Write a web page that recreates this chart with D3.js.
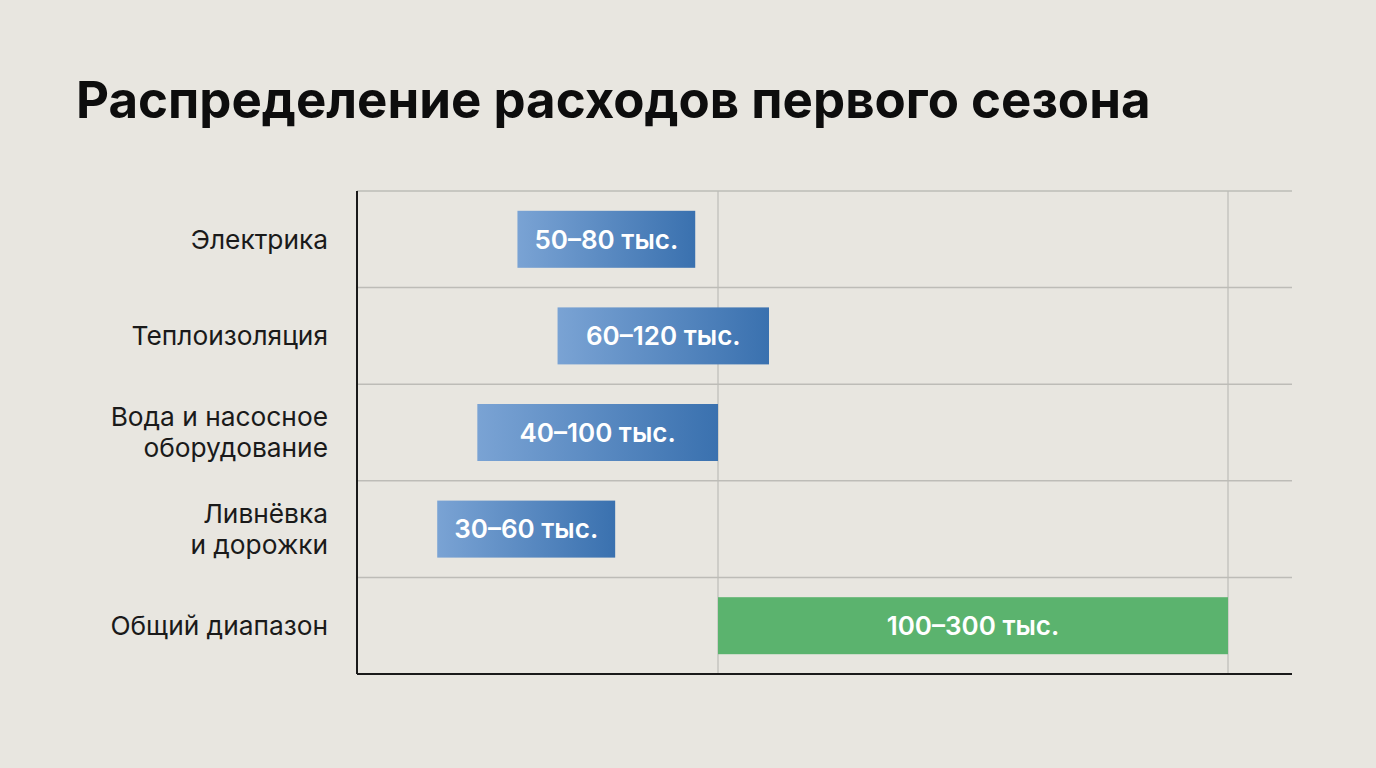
<!DOCTYPE html>
<html>
<head>
<meta charset="utf-8">
<script src="https://cdn.jsdelivr.net/npm/d3@7"></script>
<style>
  html, body { margin: 0; padding: 0; background: #e8e6e0; }
  #chart { width: 1376px; height: 768px; }
</style>
</head>
<body>
<div id="chart"></div>
<script>
// Range chart: first season spending (thousand rubles)
const categories = [
  ['Электрика'],
  ['Теплоизоляция'],
  ['Вода и насосное', 'оборудование'],
  ['Ливнёвка', 'и дорожки'],
  ['Общий диапазон']
];
const lows  = [50, 60, 40, 30, 100];
const highs = [80, 120, 100, 60, 300];
const barLabels = ['50–80 тыс.', '60–120 тыс.', '40–100 тыс.', '30–60 тыс.', '100–300 тыс.'];
const isTotal = [false, false, false, false, true];
const gridTicks = [100, 300];

(function(){
  const width = 1376, height = 768;
  const svg = d3.select('#chart').append('svg')
    .attr('width', width).attr('height', height)
    .style('display', 'block');

  const defs = svg.append('defs');
  const grad = defs.append('linearGradient').attr('id', 'blueGrad')
    .attr('x1', '0%').attr('x2', '100%').attr('y1', '0%').attr('y2', '0%');
  grad.append('stop').attr('offset', '0%').attr('stop-color', '#7aa3d4');
  grad.append('stop').attr('offset', '100%').attr('stop-color', '#3a71af');

  svg.append('rect').attr('width', width).attr('height', height).attr('fill', '#e8e6e0');

  svg.append('text')
    .attr('x', 76).attr('y', 118)
    .attr('font-family', 'Inter, "Liberation Sans", sans-serif')
    .attr('font-weight', 700)
    .attr('font-size', 51)
    .attr('fill', '#0d0d0d')
    .text('Распределение расходов первого сезона');

  const left = 357, top = 191, bottom = 674;
  // the picture's axis is not uniform: the detail rows and the total use different stretches
  const x = d3.scaleLinear().domain([10, 100, 300, 325]).range([left, 718, 1228, 1292]);
  const bandH = 96.6;
  const y = d3.scaleBand().domain(d3.range(categories.length))
    .range([top, top + bandH * categories.length]);
  const barH = 57;

  const g = svg.append('g');

  // horizontal row lines
  g.selectAll('line.row')
    .data(d3.range(categories.length))
    .join('line')
    .attr('class', 'row')
    .attr('x1', left).attr('x2', x(325))
    .attr('y1', d => y(d)).attr('y2', d => y(d))
    .attr('stroke', '#bdbcb7').attr('stroke-width', 1.5);

  // vertical grid lines
  g.selectAll('line.vgrid')
    .data(gridTicks)
    .join('line')
    .attr('class', 'vgrid')
    .attr('x1', d => x(d)).attr('x2', d => x(d))
    .attr('y1', top).attr('y2', bottom)
    .attr('stroke', '#bdbcb7').attr('stroke-width', 1.2);

  const idx = lows.map((d, i) => i);

  // bars (drawn first, sized after labels are measured)
  const bars = g.selectAll('rect.bar')
    .data(idx)
    .join('rect')
    .attr('class', 'bar')
    .attr('x', i => x(lows[i]))
    .attr('y', i => y(i) + (bandH - barH) / 2)
    .attr('height', barH)
    .attr('fill', i => isTotal[i] ? '#5bb36e' : 'url(#blueGrad)');

  const labels = g.selectAll('text.barlabel')
    .data(idx)
    .join('text')
    .attr('class', 'barlabel')
    .attr('y', i => y(i) + bandH / 2)
    .attr('dy', '0.36em')
    .attr('text-anchor', 'middle')
    .attr('font-family', 'Inter, "Noto Sans", sans-serif')
    .attr('font-weight', 600)
    .attr('font-size', 26)
    .attr('fill', '#fff')
    .text(i => barLabels[i]);

  // short ranges get stretched so their label fits inside
  const widths = idx.map(i => {
    const tw = labels.filter(j => j === i).node().getComputedTextLength();
    return Math.max(x(highs[i]) - x(lows[i]), tw + 34);
  });
  bars.attr('width', i => widths[i]);
  labels.attr('x', i => x(lows[i]) + widths[i] / 2);

  // category labels
  const cats = g.selectAll('text.cat')
    .data(categories)
    .join('text')
    .attr('class', 'cat')
    .attr('x', 328)
    .attr('y', (d, i) => y(i) + bandH / 2)
    .attr('text-anchor', 'end')
    .attr('font-family', 'Inter, "Liberation Sans", sans-serif')
    .attr('font-size', 26.3)
    .attr('fill', '#1a1a1a');
  cats.selectAll('tspan')
    .data(d => d.map((t, k) => ({t, k, n: d.length})))
    .join('tspan')
    .attr('x', 328)
    .attr('dy', d => d.k === 0 ? (0.35 - (d.n - 1) * 0.59) + 'em' : '1.18em')
    .text(d => d.t);

  // axis lines
  g.append('line').attr('x1', left).attr('x2', left).attr('y1', top).attr('y2', bottom)
    .attr('stroke', '#1a1a1a').attr('stroke-width', 2);
  g.append('line').attr('x1', left).attr('x2', x(325)).attr('y1', bottom).attr('y2', bottom)
    .attr('stroke', '#1a1a1a').attr('stroke-width', 2);
})();
</script>
</body>
</html>
